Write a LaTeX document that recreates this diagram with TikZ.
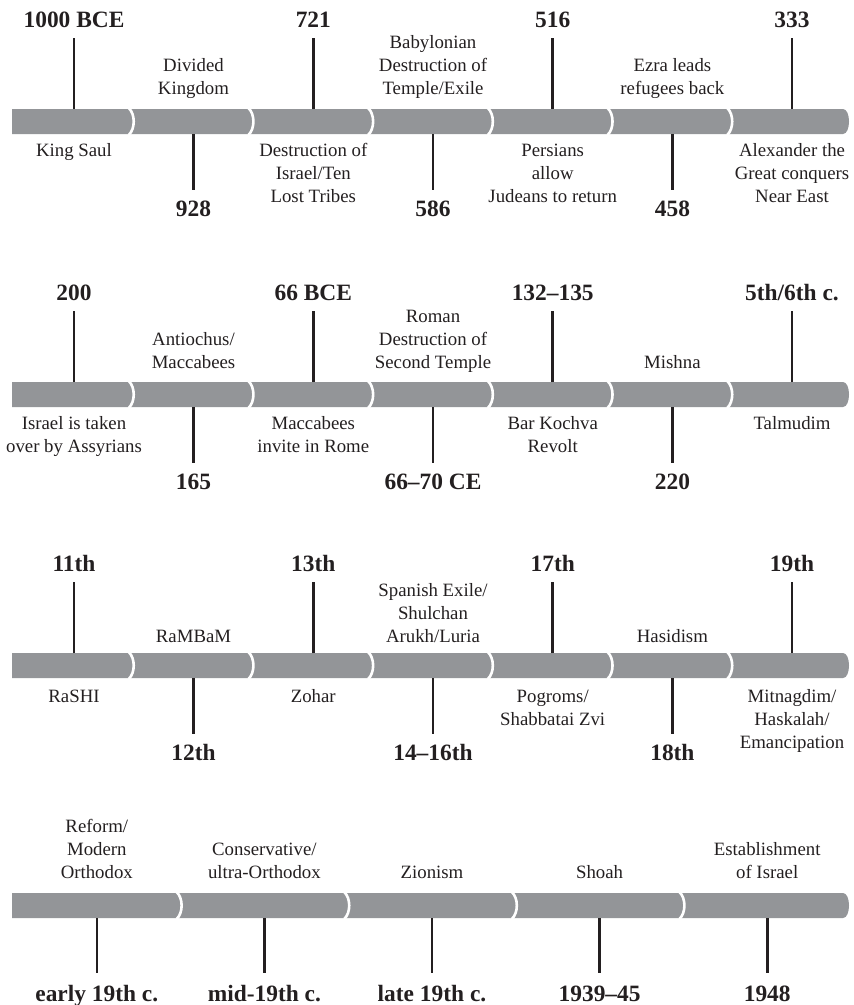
\documentclass[tikz,border=0pt]{standalone}
\usepackage{fontspec}
\setmainfont{Liberation Serif}
\definecolor{bargray}{HTML}{939598}
\definecolor{ink}{HTML}{231F20}
\begin{document}
\begin{tikzpicture}[x=1pt,y=-1pt,
  bar/.style={fill=bargray,draw=none},
  gap/.style={draw=white,line width=2.6pt},
  tick/.style={draw=ink,line width=2.6pt},
  date/.style={font=\fontsize{23.4}{27}\selectfont\bfseries,text=ink,anchor=base,inner sep=0pt},
  lbl/.style={font=\fontsize{18.8}{23}\selectfont,text=ink,align=center,anchor=base,inner sep=0pt}]
\useasboundingbox (0,0) rectangle (854,1005);

% ---------- bars ----------
\foreach \t/\b in {109/134,382/407,653/678,893/918}{
  \fill[bar] (12,\t) -- (843,\t) .. controls (851,\t) and (851,\b) .. (843,\b) -- (12,\b) -- cycle;
}
\foreach \t/\b in {109/134,382/407,653/678}{
  \foreach \x in {133.7,253.4,373.1,492.8,612.5,732.2}{
    \draw[gap] (\x-5,\t-1) .. controls (\x+1.7,\t+5) and (\x+1.7,\b-5) .. (\x-5,\b+1);
  }
}
\foreach \x in {181.6,349.2,516.8,684.4}{
  \draw[gap] (\x-5,892) .. controls (\x+1.7,898) and (\x+1.7,913) .. (\x-5,919);
}

% ---------- row 1 ----------
\coordinate (r1c1) at (74,109);   \coordinate (r1e1) at (74,38);
\coordinate (r1c2) at (193.5,134);\coordinate (r1e2) at (193.5,190);
\coordinate (r1c3) at (313.3,109);\coordinate (r1e3) at (313.3,38);
\coordinate (r1c4) at (433,134);  \coordinate (r1e4) at (433,190);
\coordinate (r1c5) at (552.7,109);\coordinate (r1e5) at (552.7,38);
\coordinate (r1c6) at (672.4,134);\coordinate (r1e6) at (672.4,190);
\coordinate (r1c7) at (792,109);  \coordinate (r1e7) at (792,38);
\foreach \i in {1,...,7}{\draw[tick] (r1c\i) -- (r1e\i);}
\node[date] (r1d1) at (74,27) {1000 BCE};
\node[date] (r1d3) at (313.3,27) {721};
\node[date] (r1d5) at (552.7,27) {516};
\node[date] (r1d7) at (792,27) {333};
\node[date] (r1d2) at (193.5,216) {928};
\node[date] (r1d4) at (433,216) {586};
\node[date] (r1d6) at (672.4,216) {458};
\node[lbl] (r1l1) at (74,156.7) {King Saul};
\node[lbl] (r1l2) at (193.5,94.5) {Divided\\Kingdom};
\node[lbl] (r1l3) at (313.3,202.7) {Destruction of\\Israel/Ten\\Lost Tribes};
\node[lbl] (r1l4) at (433,94.5) {Babylonian\\Destruction of\\Temple/Exile};
\node[lbl] (r1l5) at (552.7,202.7) {Persians\\allow\\Judeans to return};
\node[lbl] (r1l6) at (672.4,94.5) {Ezra leads\\refugees back};
\node[lbl] (r1l7) at (792,202.7) {Alexander the\\Great conquers\\Near East};

% ---------- row 2 ----------
\coordinate (r2c1) at (74,382);   \coordinate (r2e1) at (74,311);
\coordinate (r2c2) at (193.5,407);\coordinate (r2e2) at (193.5,463);
\coordinate (r2c3) at (313.3,382);\coordinate (r2e3) at (313.3,311);
\coordinate (r2c4) at (433,407);  \coordinate (r2e4) at (433,463);
\coordinate (r2c5) at (552.7,382);\coordinate (r2e5) at (552.7,311);
\coordinate (r2c6) at (672.4,407);\coordinate (r2e6) at (672.4,463);
\coordinate (r2c7) at (792,382);  \coordinate (r2e7) at (792,311);
\foreach \i in {1,...,7}{\draw[tick] (r2c\i) -- (r2e\i);}
\node[date] (r2d1) at (74,300) {200};
\node[date] (r2d3) at (313.3,300) {66 BCE};
\node[date] (r2d5) at (552.7,300) {132–135};
\node[date] (r2d7) at (792,300) {5th/6th c.};
\node[date] (r2d2) at (193.5,489) {165};
\node[date] (r2d4) at (433,489) {66–70 CE};
\node[date] (r2d6) at (672.4,489) {220};
\node[lbl] (r2l1) at (74,452.5) {Israel is taken\\over by Assyrians};
\node[lbl] (r2l2) at (193.5,368) {Antiochus/\\Maccabees};
\node[lbl] (r2l3) at (313.3,452.5) {Maccabees\\invite in Rome};
\node[lbl] (r2l4) at (433,368) {Roman\\Destruction of\\Second Temple};
\node[lbl] (r2l5) at (552.7,452.5) {Bar Kochva\\Revolt};
\node[lbl] (r2l6) at (672.4,368) {Mishna};
\node[lbl] (r2l7) at (792,429.5) {Talmudim};

% ---------- row 3 ----------
\coordinate (r3c1) at (74,653);   \coordinate (r3e1) at (74,582);
\coordinate (r3c2) at (193.5,678);\coordinate (r3e2) at (193.5,734);
\coordinate (r3c3) at (313.3,653);\coordinate (r3e3) at (313.3,582);
\coordinate (r3c4) at (433,678);  \coordinate (r3e4) at (433,734);
\coordinate (r3c5) at (552.7,653);\coordinate (r3e5) at (552.7,582);
\coordinate (r3c6) at (672.4,678);\coordinate (r3e6) at (672.4,734);
\coordinate (r3c7) at (792,653);  \coordinate (r3e7) at (792,582);
\foreach \i in {1,...,7}{\draw[tick] (r3c\i) -- (r3e\i);}
\node[date] (r3d1) at (74,571) {11th};
\node[date] (r3d3) at (313.3,571) {13th};
\node[date] (r3d5) at (552.7,571) {17th};
\node[date] (r3d7) at (792,571) {19th};
\node[date] (r3d2) at (193.5,760) {12th};
\node[date] (r3d4) at (433,760) {14–16th};
\node[date] (r3d6) at (672.4,760) {18th};
\node[lbl] (r3l1) at (74,702) {RaSHI};
\node[lbl] (r3l2) at (193.5,642) {RaMBaM};
\node[lbl] (r3l3) at (313.3,702) {Zohar};
\node[lbl] (r3l4) at (433,642) {Spanish Exile/\\Shulchan\\Arukh/Luria};
\node[lbl] (r3l5) at (552.7,725) {Pogroms/\\Shabbatai Zvi};
\node[lbl] (r3l6) at (672.4,642) {Hasidism};
\node[lbl] (r3l7) at (792,748) {Mitnagdim/\\Haskalah/\\Emancipation};

% ---------- row 4 ----------
\coordinate (r4c1) at (96.8,918); \coordinate (r4e1) at (96.8,973);
\coordinate (r4c2) at (264.4,918);\coordinate (r4e2) at (264.4,973);
\coordinate (r4c3) at (432,918);  \coordinate (r4e3) at (432,973);
\coordinate (r4c4) at (599.6,918);\coordinate (r4e4) at (599.6,973);
\coordinate (r4c5) at (767.2,918);\coordinate (r4e5) at (767.2,973);
\foreach \i in {1,...,5}{\draw[tick] (r4c\i) -- (r4e\i);}
\node[date] (r4d1) at (96.8,1001) {early 19th c.};
\node[date] (r4d2) at (264.4,1001) {mid-19th c.};
\node[date] (r4d3) at (432,1001) {late 19th c.};
\node[date] (r4d4) at (599.6,1001) {1939–45};
\node[date] (r4d5) at (767.2,1001) {1948};
\node[lbl] (r4l1) at (96.8,878.5) {Reform/\\Modern\\Orthodox};
\node[lbl] (r4l2) at (264.4,878.5) {Conservative/\\ultra-Orthodox};
\node[lbl] (r4l3) at (432,878.5) {Zionism};
\node[lbl] (r4l4) at (599.6,878.5) {Shoah};
\node[lbl] (r4l5) at (767.2,878.5) {Establishment\\of Israel};
\end{tikzpicture}
\end{document}
